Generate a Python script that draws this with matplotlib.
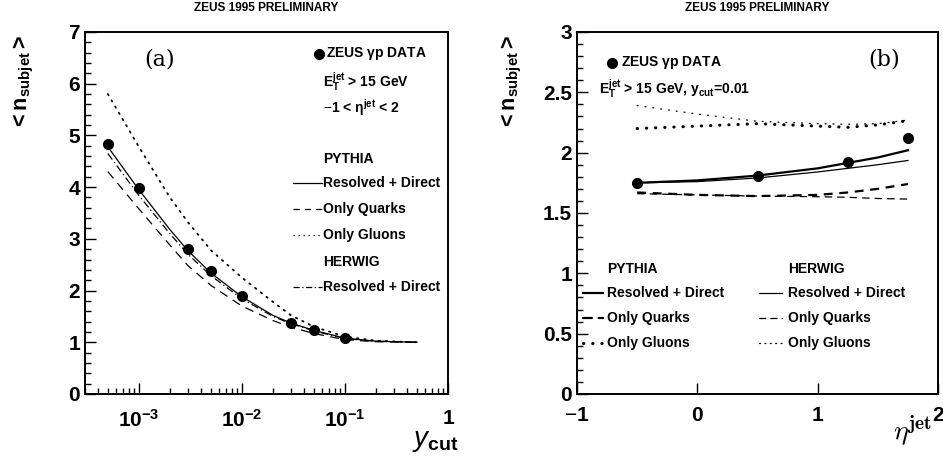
import numpy as np
import matplotlib
matplotlib.use("Agg")
import matplotlib.pyplot as plt
from matplotlib.ticker import NullFormatter, LogLocator, MultipleLocator

plt.rcParams['font.family'] = ['Liberation Sans', 'DejaVu Sans']
plt.rcParams['mathtext.fontset'] = 'custom'
plt.rcParams['mathtext.rm'] = 'Liberation Sans'
plt.rcParams['mathtext.bf'] = 'Liberation Sans:bold'
plt.rcParams['mathtext.it'] = 'Liberation Sans:italic'

# ---------------- Panel (a) data ----------------
ycut_data = [5e-4, 1e-3, 3e-3, 5e-3, 1e-2, 3e-2, 5e-2, 1e-1]
nsub_data = [4.83, 3.98, 2.80, 2.37, 1.89, 1.38, 1.24, 1.09]

ycut_mc = [5e-4, 1e-3, 2e-3, 3e-3, 5e-3, 1e-2, 2e-2, 3e-2, 5e-2, 1e-1, 2e-1, 5e-1]
pythia_rd = [4.78, 3.95, 3.18, 2.77, 2.34, 1.88, 1.52, 1.37, 1.23, 1.08, 1.02, 1.00]
pythia_q = [4.30, 3.58, 2.88, 2.48, 2.10, 1.70, 1.42, 1.29, 1.17, 1.05, 1.01, 1.00]
pythia_g = [5.80, 4.78, 3.80, 3.32, 2.78, 2.25, 1.78, 1.52, 1.30, 1.11, 1.03, 1.00]
herwig_rd = [4.65, 3.84, 3.10, 2.70, 2.29, 1.84, 1.50, 1.36, 1.22, 1.07, 1.02, 1.00]

# ---------------- Panel (b) data ----------------
eta_data = [-0.5, 0.5, 1.25, 1.75]
nsub_eta = [1.75, 1.81, 1.925, 2.12]

eta_mc = [-0.5, 0.0, 0.5, 1.0, 1.25, 1.5, 1.75]
py_rd_b = [1.75, 1.77, 1.81, 1.87, 1.915, 1.96, 2.02]
py_q_b = [1.67, 1.65, 1.64, 1.65, 1.67, 1.70, 1.74]
py_g_b = [2.20, 2.22, 2.24, 2.22, 2.21, 2.23, 2.265]
hw_rd_b = [1.75, 1.76, 1.79, 1.84, 1.87, 1.90, 1.935]
hw_q_b = [1.66, 1.65, 1.64, 1.635, 1.63, 1.62, 1.615]
hw_g_b = [2.39, 2.32, 2.26, 2.24, 2.235, 2.24, 2.27]

xticks_a = [1e-3, 1e-2, 1e-1, 1]
xticklabels_a = [r'$\mathbf{10^{-3}}$', r'$\mathbf{10^{-2}}$', r'$\mathbf{10^{-1}}$', '1']

fig = plt.figure(figsize=(9.43, 4.57), dpi=100)
axA = fig.add_axes([0.0901, 0.1379, 0.3850, 0.7921])
axB = fig.add_axes([0.6119, 0.1379, 0.3828, 0.7921])

tick_fs = 15
for ax in (axA, axB):
    for s in ax.spines.values():
        s.set_linewidth(1.4)
    ax.tick_params(which='both', direction='in', top=False, right=False,
                   labelsize=tick_fs, width=1.0)
    ax.tick_params(which='major', length=8)
    ax.tick_params(which='minor', length=4)

# ---- Panel (a)
axA.set_xscale('log')
axA.set_xlim(3e-4, 1)
axA.set_ylim(0, 7)
axA.plot(ycut_mc, pythia_g, color='black', lw=1.3, linestyle=(0, (0.8, 3.2)),
         dash_capstyle='round')
axA.plot(ycut_mc, pythia_q, color='black', lw=0.9, linestyle=(0, (7, 5)))
axA.plot(ycut_mc, herwig_rd, color='black', lw=0.9, linestyle=(0, (6, 2.5, 1, 2.5)))
axA.plot(ycut_mc, pythia_rd, color='black', lw=0.9)
axA.plot(ycut_data, nsub_data, 'o', color='black', markersize=7)
axA.set_xticks(xticks_a)
axA.set_xticklabels(xticklabels_a, fontsize=tick_fs, fontweight='bold')
axA.xaxis.set_minor_locator(LogLocator(base=10, subs=np.arange(2, 10)))
axA.xaxis.set_minor_formatter(NullFormatter())
axA.set_yticks(range(0, 8))
axA.set_yticklabels([str(v) for v in range(0, 8)], fontsize=tick_fs, fontweight='bold')
axA.yaxis.set_minor_locator(MultipleLocator(0.2))
axA.tick_params(axis='x', pad=11)

axA.text(0.205, 0.925, '(a)', transform=axA.transAxes, fontsize=16,
         family='DejaVu Serif', ha='center', va='center')
# legend (a)
axA.plot([0.645], [0.94], 'o', color='black', markersize=7, transform=axA.transAxes, clip_on=False)
axA.text(0.665, 0.94, r'ZEUS $\mathbf{\gamma}$p DATA', transform=axA.transAxes,
         fontsize=10, fontweight='bold', va='center')
axA.text(0.655, 0.862, r'E$_{\mathbf{T}}^{\mathbf{jet}}$ > 15 GeV', transform=axA.transAxes,
         fontsize=10, fontweight='bold', va='center')
axA.text(0.655, 0.79, r'$-$1 < $\mathbf{\eta}^{\mathbf{jet}}$ < 2', transform=axA.transAxes,
         fontsize=10, fontweight='bold', va='center')
leg_x0, leg_x1, leg_tx = 0.572, 0.652, 0.657
rows = [(0.650, 'PYTHIA', None), (0.582, 'Resolved + Direct', '-'),
        (0.510, 'Only Quarks', (0, (5, 4))), (0.438, 'Only Gluons', (0, (1, 3))),
        (0.364, 'HERWIG', None), (0.295, 'Resolved + Direct', (0, (5, 2, 1, 2)))]
for y, lab, ls in rows:
    if ls is not None:
        axA.plot([leg_x0, leg_x1], [y, y], color='black', lw=0.9, linestyle=ls,
                 transform=axA.transAxes)
    axA.text(leg_tx, y, lab, transform=axA.transAxes,
             fontsize=10, fontweight='bold', va='center')

# ---- Panel (b)
axB.set_xlim(-1, 2)
axB.set_ylim(0, 3)
axB.plot(eta_mc, hw_g_b, color='black', lw=0.9, linestyle=(0, (0.8, 5.5)),
         dash_capstyle='round')
axB.plot(eta_mc, py_g_b, color='black', lw=2.2, linestyle=(0, (0.1, 2.9)),
         dash_capstyle='round')
axB.plot(eta_mc, hw_q_b, color='black', lw=0.9, linestyle=(0, (6, 4)))
axB.plot(eta_mc, py_q_b, color='black', lw=1.6, linestyle=(0, (4, 3)))
axB.plot(eta_mc, hw_rd_b, color='black', lw=0.9)
axB.plot(eta_mc, py_rd_b, color='black', lw=1.6)
axB.plot(eta_data, nsub_eta, 'o', color='black', markersize=7)
axB.set_xticks([-1, 0, 1, 2])
axB.set_xticklabels([r'$-$1', '0', '1', '2'], fontsize=tick_fs, fontweight='bold')
axB.set_yticks([0, 0.5, 1, 1.5, 2, 2.5, 3])
axB.set_yticklabels(['0', '0.5', '1', '1.5', '2', '2.5', '3'], fontsize=tick_fs, fontweight='bold')
axB.yaxis.set_minor_locator(MultipleLocator(0.1))
axB.tick_params(axis='x', pad=9)

axB.text(0.85, 0.925, '(b)', transform=axB.transAxes, fontsize=16,
         family='DejaVu Serif', ha='center', va='center')
axB.plot([0.097], [0.915], 'o', color='black', markersize=7, transform=axB.transAxes, clip_on=False)
axB.text(0.122, 0.915, r'ZEUS $\mathbf{\gamma}$p DATA', transform=axB.transAxes,
         fontsize=10, fontweight='bold', va='center')
axB.text(0.06, 0.84, r'E$_{\mathbf{T}}^{\mathbf{jet}}$ > 15 GeV, $\mathbf{y_{cut}}$=0.01',
         transform=axB.transAxes, fontsize=10, fontweight='bold', va='center')
col1 = (0.017, 0.072, 0.083)
col2 = (0.505, 0.568, 0.585)
rowsB = [(0.345, 'PYTHIA', 'HERWIG', None, None),
         (0.278, 'Resolved + Direct', 'Resolved + Direct', ('-', 1.6), ('-', 0.9)),
         (0.210, 'Only Quarks', 'Only Quarks', ((0, (4, 3)), 1.6), ((0, (5, 4)), 0.9)),
         (0.142, 'Only Gluons', 'Only Gluons', ((0, (0.1, 2.9)), 2.2), ((0, (0.8, 3.5)), 0.9))]
for y, l1, l2, s1, s2 in rowsB:
    for (xa, xb, xt), lab, st in ((col1, l1, s1), (col2, l2, s2)):
        if st is not None:
            axB.plot([xa, xb], [y, y], color='black', lw=st[1], linestyle=st[0],
                     dash_capstyle='round', transform=axB.transAxes)
        axB.text(xt, y, lab, transform=axB.transAxes, fontsize=10,
                 fontweight='bold', va='center')

# titles
for ax in (axA, axB):
    ax.text(0.5, 1.065, 'ZEUS 1995 PRELIMINARY', transform=ax.transAxes,
            fontsize=8.5, fontweight='bold', ha='center', va='center')

# axis labels
ylab = r'$\mathbf{<n_{subjet}>}$'
fig.text(0.025, 0.82, ylab, rotation=90, fontsize=15.5, ha='center', va='center')
fig.text(0.543, 0.82, ylab, rotation=90, fontsize=15.5, ha='center', va='center')
fig.text(0.461, 0.036, r'$\mathit{y}_{\mathbf{cut}}$', fontsize=20, ha='center', va='center')
fig.text(0.968, 0.058, r'$\eta^{\mathbf{jet}}$', fontsize=20, ha='center', va='center',
         math_fontfamily='cm')

fig.savefig('out.png', dpi=100)
